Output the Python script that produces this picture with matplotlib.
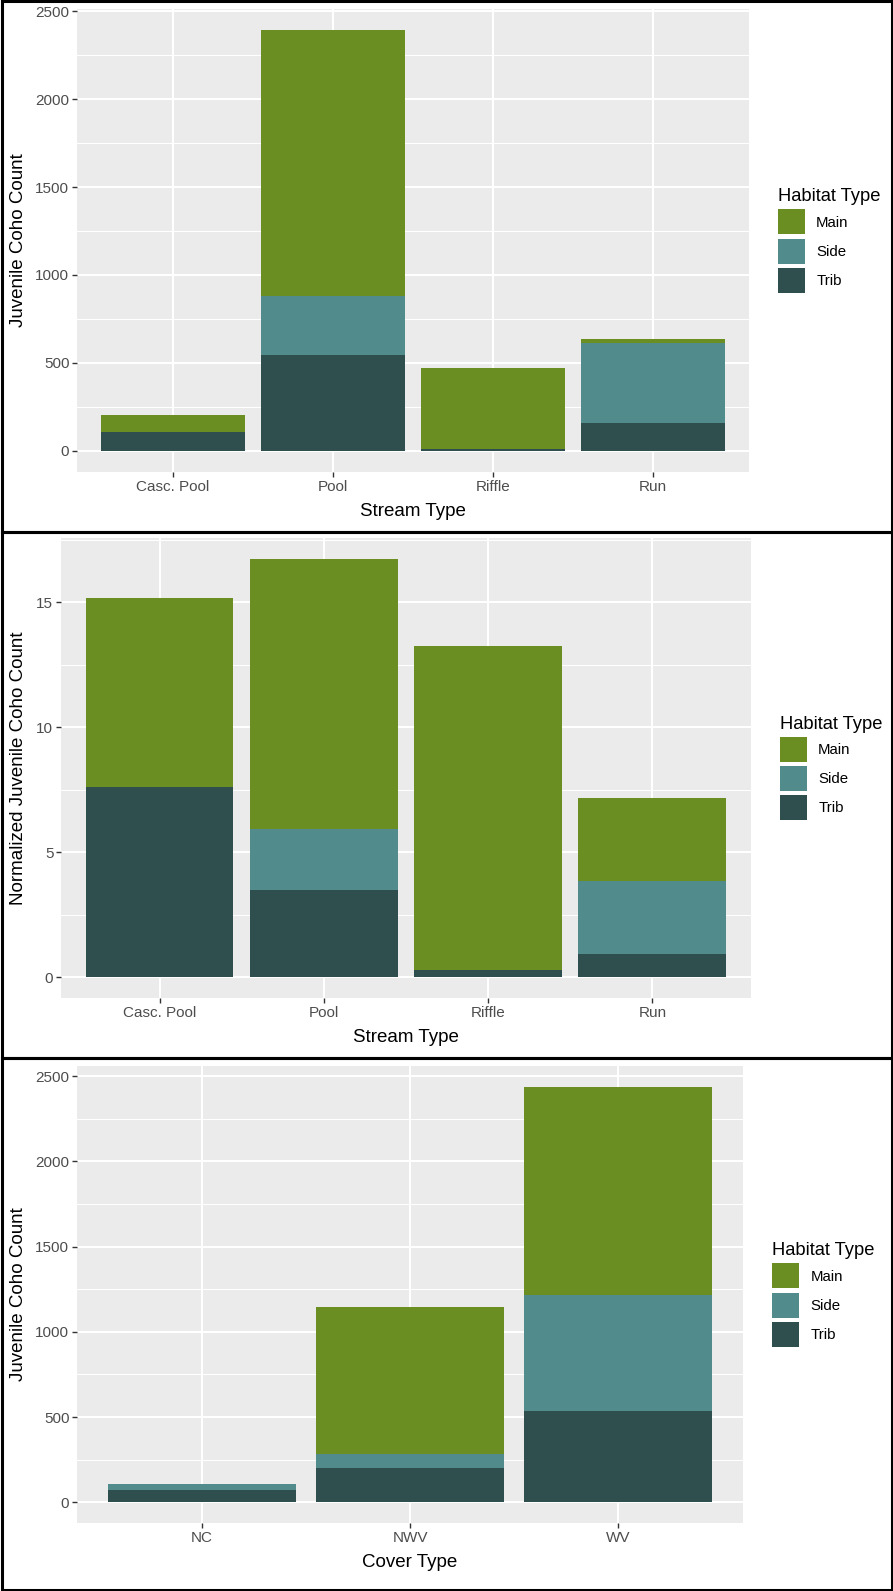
import matplotlib
matplotlib.use("Agg")
import matplotlib.pyplot as plt
from matplotlib.patches import Patch, Rectangle
import numpy as np

plt.rcParams['font.family'] = ['Liberation Sans', 'DejaVu Sans']

# habitat types and their fill colours
habitats = ["Main", "Side", "Trib"]
colors = {"Main": "#6B8E23", "Side": "#528B8B", "Trib": "#2F4F4F"}

# panel 1 - juvenile coho count by stream type
stream_types = ["Casc. Pool", "Pool", "Riffle", "Run"]
stream_trib = [106, 544, 12, 157]
stream_side = [0, 336, 0, 459]
stream_main = [100, 1512, 457, 23]

# panel 2 - normalized count by stream type
norm_trib = [7.60, 3.49, 0.28, 0.94]
norm_side = [0, 2.44, 0, 2.90]
norm_main = [7.57, 10.80, 12.95, 3.33]

# panel 3 - juvenile coho count by cover type
cover_types = ["NC", "NWV", "WV"]
cover_trib = [74, 199, 535]
cover_side = [35, 85, 679]
cover_main = [0, 860, 1224]

count_ticks = [0, 500, 1000, 1500, 2000, 2500]
norm_ticks = [0, 5, 10, 15]

W, H = 893, 1591
fig = plt.figure(figsize=(W / 100, H / 100), dpi=100)


def stacked(box, cats, trib, side, main, yticks, ylabel, xlabel):
    left, top, right, bottom = box
    ax = fig.add_axes([left / W, 1 - bottom / H, (right - left) / W, (bottom - top) / H])
    x = np.arange(len(cats))
    trib, side, main = np.array(trib), np.array(side), np.array(main)
    ax.bar(x, trib, 0.9, color=colors["Trib"], zorder=3)
    ax.bar(x, side, 0.9, bottom=trib, color=colors["Side"], zorder=3)
    ax.bar(x, main, 0.9, bottom=trib + side, color=colors["Main"], zorder=3)

    # ggplot style expansion
    ymax = (trib + side + main).max()
    ax.set_xlim(-0.6, len(cats) - 0.4)

    ax.set_facecolor("#EBEBEB")
    for s in ax.spines.values():
        s.set_visible(False)
    ax.set_xticks(x)
    ax.set_xticklabels(cats)
    ax.set_yticks(yticks)
    step = yticks[1] - yticks[0]
    ax.set_yticks(np.array(yticks) + step / 2, minor=True)
    ax.set_ylim(-0.05 * ymax, 1.05 * ymax)
    ax.grid(which="major", color="white", lw=1.5, zorder=0)
    ax.grid(which="minor", axis="y", color="white", lw=0.75, zorder=0)
    ax.set_axisbelow(True)
    ax.tick_params(which="minor", length=0)
    ax.tick_params(which="major", length=3.5, width=1, color="#333333",
                   labelcolor="#4D4D4D", labelsize=11, pad=2)

    ax.set_ylabel(ylabel, fontsize=13.5, color="black")
    ax.yaxis.set_label_coords((27 - left) / (right - left), 0.5)
    ax.set_xlabel(xlabel, fontsize=13.5, color="black", labelpad=6.5)

    handles = [Patch(facecolor=colors[h], edgecolor="none", label=h) for h in habitats]
    leg = ax.legend(handles=handles, title="Habitat Type", loc="center left",
                    bbox_to_anchor=(1 + 29 / (right - left), 0.5), frameon=False,
                    fontsize=10.8, title_fontsize=13.2, handlelength=1.8,
                    handleheight=2.19, labelspacing=0.27, handletextpad=0.75,
                    borderpad=0, borderaxespad=0)
    leg._legend_box.align = "left"
    return ax


stacked((77, 9, 749, 472), stream_types, stream_trib, stream_side, stream_main,
        count_ticks, "Juvenile Coho Count", "Stream Type")
stacked((61, 538, 751, 998), stream_types, norm_trib, norm_side, norm_main,
        norm_ticks, "Normalized Juvenile Coho Count", "Stream Type")
stacked((77, 1066, 743, 1523), cover_types, cover_trib, cover_side, cover_main,
        count_ticks, "Juvenile Coho Count", "Cover Type")

# black frames round each panel
for y0, y1 in [(1, 532), (532, 1058), (1058, 1590)]:
    fig.add_artist(Rectangle((1.5 / W, 1 - y1 / H), (W - 3) / W, (y1 - y0) / H,
                             transform=fig.transFigure, fill=False,
                             ec="black", lw=2.2))

fig.savefig("out.png", dpi=100, facecolor="white")
